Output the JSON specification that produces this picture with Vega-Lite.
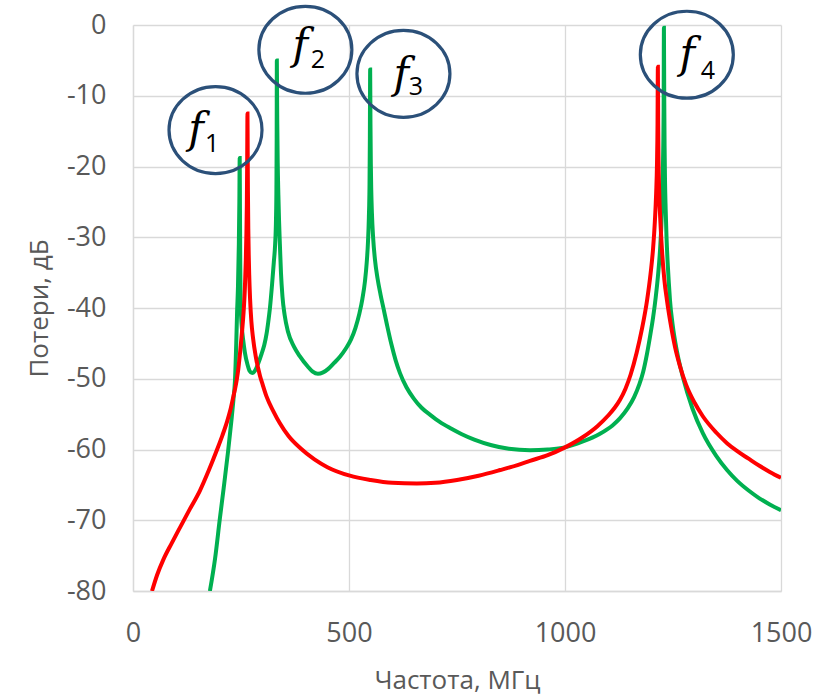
{
  "$schema": "https://vega.github.io/schema/vega-lite/v6.json",
  "width": 648,
  "height": 566,
  "autosize": {"type": "none"},
  "padding": {"left": 133, "top": 25, "right": 47, "bottom": 104},
  "background": "white",
  "config": {
    "view": {"stroke": null},
    "axis": {
      "grid": true,
      "gridColor": "#d9d9d9",
      "gridWidth": 1.3,
      "domainColor": "#d9d9d9",
      "domainWidth": 1.3,
      "ticks": false,
      "tickSize": 0,
      "labelFont": "Open Sans",
      "labelFontSize": 27,
      "labelColor": "#595959",
      "titleFont": "Open Sans",
      "titleFontSize": 26,
      "titleFontWeight": "normal",
      "titleColor": "#595959",
      "labelFlush": false,
      "labelOverlap": false,
      "labelExpr": "'' + datum.value"
    }
  },
  "datasets": {
    "green": [
      {"f": 178, "db": -80}, {"f": 190, "db": -75.4}, {"f": 201, "db": -69.8}, {"f": 210, "db": -65.4},
      {"f": 220, "db": -60.3}, {"f": 228, "db": -55.8}, {"f": 233, "db": -52.6}, {"f": 236, "db": -50.3},
      {"f": 239, "db": -45}, {"f": 241, "db": -40.5}, {"f": 243, "db": -37}, {"f": 245, "db": -31},
      {"f": 246.2, "db": -25}, {"f": 247, "db": -18.8}, {"f": 247.6, "db": -26}, {"f": 248.3, "db": -34},
      {"f": 249, "db": -39}, {"f": 250.5, "db": -41.5}, {"f": 252, "db": -42.8}, {"f": 255, "db": -44.5},
      {"f": 259, "db": -46.3}, {"f": 265, "db": -48}, {"f": 270, "db": -48.9}, {"f": 276, "db": -49.2},
      {"f": 282, "db": -48.9}, {"f": 290, "db": -47.8}, {"f": 298, "db": -46.4}, {"f": 304, "db": -45.2},
      {"f": 309, "db": -43.7}, {"f": 313, "db": -42}, {"f": 317, "db": -40}, {"f": 322, "db": -36.6},
      {"f": 326, "db": -33.5}, {"f": 329, "db": -31}, {"f": 331, "db": -27.5}, {"f": 332, "db": -23},
      {"f": 332.6, "db": -16}, {"f": 333, "db": -5}, {"f": 333.5, "db": -10}, {"f": 334, "db": -14},
      {"f": 335, "db": -19.5}, {"f": 336.5, "db": -24}, {"f": 338, "db": -27.5}, {"f": 340, "db": -31},
      {"f": 342.5, "db": -35}, {"f": 346, "db": -38.4}, {"f": 351, "db": -41}, {"f": 359, "db": -43.4},
      {"f": 372, "db": -45.4}, {"f": 386, "db": -46.8}, {"f": 405, "db": -48.3}, {"f": 416, "db": -49.0},
      {"f": 428, "db": -49.3}, {"f": 440, "db": -49.1}, {"f": 452, "db": -48.6}, {"f": 465, "db": -47.8},
      {"f": 479, "db": -46.9}, {"f": 492, "db": -45.8}, {"f": 505, "db": -44.4}, {"f": 515, "db": -42.8},
      {"f": 524, "db": -40.8}, {"f": 531, "db": -38.7}, {"f": 537, "db": -36.2}, {"f": 541, "db": -33.6},
      {"f": 544, "db": -30.6}, {"f": 546, "db": -27.2}, {"f": 547.5, "db": -22.5}, {"f": 548.3, "db": -16},
      {"f": 549, "db": -6.3}, {"f": 549.7, "db": -14}, {"f": 550.5, "db": -19.5}, {"f": 551.5, "db": -23.3},
      {"f": 553, "db": -26.5}, {"f": 556, "db": -30.2}, {"f": 560, "db": -33.1}, {"f": 566, "db": -35.8},
      {"f": 573, "db": -38.1}, {"f": 580, "db": -40.1}, {"f": 588, "db": -42.4}, {"f": 598, "db": -45.1},
      {"f": 608, "db": -47.4}, {"f": 618, "db": -49.2}, {"f": 633, "db": -51.2}, {"f": 650, "db": -52.8},
      {"f": 668, "db": -54.1}, {"f": 688, "db": -55.1}, {"f": 710, "db": -56.1}, {"f": 735, "db": -57.0},
      {"f": 760, "db": -57.8}, {"f": 790, "db": -58.6}, {"f": 830, "db": -59.4}, {"f": 870, "db": -59.9},
      {"f": 919, "db": -60.1}, {"f": 960, "db": -60.0}, {"f": 1000, "db": -59.7}, {"f": 1040, "db": -58.9},
      {"f": 1080, "db": -57.8}, {"f": 1110, "db": -56.6}, {"f": 1127, "db": -55.6}, {"f": 1145, "db": -54.2},
      {"f": 1160, "db": -52.6}, {"f": 1172, "db": -50.8}, {"f": 1181, "db": -49.0}, {"f": 1190, "db": -46.4},
      {"f": 1198, "db": -43.6}, {"f": 1204, "db": -41.3}, {"f": 1210, "db": -38.5}, {"f": 1215, "db": -35.6},
      {"f": 1220, "db": -31.8}, {"f": 1223, "db": -28.3}, {"f": 1225, "db": -24.8}, {"f": 1226.5, "db": -21},
      {"f": 1227.5, "db": -17}, {"f": 1228.3, "db": -12}, {"f": 1229, "db": -0.4}, {"f": 1229.7, "db": -10},
      {"f": 1230.5, "db": -17}, {"f": 1231.5, "db": -22}, {"f": 1233, "db": -26}, {"f": 1235, "db": -30},
      {"f": 1238, "db": -34}, {"f": 1240.5, "db": -36.6}, {"f": 1243, "db": -38.9}, {"f": 1249, "db": -42.3},
      {"f": 1259, "db": -46.1}, {"f": 1273, "db": -49.8}, {"f": 1295, "db": -54.2}, {"f": 1319, "db": -57.7},
      {"f": 1350, "db": -60.9}, {"f": 1375, "db": -62.9}, {"f": 1398, "db": -64.4}, {"f": 1425, "db": -65.8},
      {"f": 1450, "db": -66.9}, {"f": 1475, "db": -67.8}, {"f": 1500, "db": -68.6}
    ],
    "red": [
      {"f": 44, "db": -80}, {"f": 56, "db": -77.7}, {"f": 70, "db": -75.6}, {"f": 90, "db": -73.2},
      {"f": 109, "db": -71}, {"f": 130, "db": -68.6}, {"f": 155, "db": -65.8}, {"f": 175, "db": -63},
      {"f": 194, "db": -60.1}, {"f": 207, "db": -58}, {"f": 217, "db": -56.2}, {"f": 225, "db": -54.5},
      {"f": 232, "db": -52.6}, {"f": 236, "db": -51.5}, {"f": 240, "db": -50.2}, {"f": 244, "db": -48.5},
      {"f": 248, "db": -46.2}, {"f": 252, "db": -43.6}, {"f": 256, "db": -40.6}, {"f": 259, "db": -37.2},
      {"f": 261, "db": -33.5}, {"f": 262.5, "db": -29.5}, {"f": 263.5, "db": -25.5}, {"f": 264.3, "db": -19.5},
      {"f": 265, "db": -12.5}, {"f": 265.5, "db": -18}, {"f": 266, "db": -23.3}, {"f": 267, "db": -29.3},
      {"f": 268, "db": -32.8}, {"f": 269, "db": -35.3}, {"f": 271, "db": -38.7}, {"f": 274, "db": -41.9},
      {"f": 278, "db": -44.3}, {"f": 284, "db": -46.8}, {"f": 294, "db": -49.6}, {"f": 300, "db": -50.8},
      {"f": 309, "db": -52.5}, {"f": 325, "db": -54.6}, {"f": 340, "db": -56.3}, {"f": 360, "db": -58.1},
      {"f": 387, "db": -59.8}, {"f": 420, "db": -61.4}, {"f": 450, "db": -62.5}, {"f": 502, "db": -63.7},
      {"f": 550, "db": -64.3}, {"f": 600, "db": -64.7}, {"f": 657, "db": -64.8}, {"f": 700, "db": -64.7},
      {"f": 750, "db": -64.3}, {"f": 800, "db": -63.7}, {"f": 850, "db": -62.9}, {"f": 890, "db": -62.2},
      {"f": 919, "db": -61.6}, {"f": 960, "db": -60.8}, {"f": 1000, "db": -59.7}, {"f": 1040, "db": -58.3},
      {"f": 1075, "db": -56.7}, {"f": 1100, "db": -55.2}, {"f": 1115, "db": -54.1}, {"f": 1127, "db": -53},
      {"f": 1140, "db": -51.4}, {"f": 1152, "db": -49.4}, {"f": 1166, "db": -46.3}, {"f": 1178, "db": -43},
      {"f": 1190, "db": -38.9}, {"f": 1198, "db": -35.2}, {"f": 1204, "db": -31.5}, {"f": 1208, "db": -27.8},
      {"f": 1211, "db": -23.8}, {"f": 1213, "db": -19.5}, {"f": 1214.2, "db": -14}, {"f": 1215, "db": -5.9},
      {"f": 1215.7, "db": -14}, {"f": 1216.5, "db": -19}, {"f": 1218, "db": -23.5}, {"f": 1221, "db": -28},
      {"f": 1225, "db": -32.3}, {"f": 1230, "db": -36}, {"f": 1236, "db": -38.9}, {"f": 1245, "db": -42.4},
      {"f": 1255, "db": -45.6}, {"f": 1266, "db": -48.2}, {"f": 1280, "db": -50.8}, {"f": 1300, "db": -53.4},
      {"f": 1319, "db": -55.3}, {"f": 1350, "db": -57.6}, {"f": 1375, "db": -59.1}, {"f": 1398, "db": -60.2},
      {"f": 1425, "db": -61.3}, {"f": 1450, "db": -62.3}, {"f": 1475, "db": -63.2}, {"f": 1500, "db": -64}
    ],
    "circles": [
      {"f": 191, "db": -14.85},
      {"f": 399, "db": -3.5},
      {"f": 626, "db": -6.9},
      {"f": 1282, "db": -4.2}
    ],
    "letters": [
      {"f": 146, "db": -14.9, "t": "f"},
      {"f": 387, "db": -2.9, "t": "f"},
      {"f": 621, "db": -7.0, "t": "f"},
      {"f": 1283, "db": -4.2, "t": "f"}
    ],
    "subs": [
      {"f": 183, "db": -16.8, "t": "1"},
      {"f": 428, "db": -5.0, "t": "2"},
      {"f": 655, "db": -8.8, "t": "3"},
      {"f": 1331, "db": -6.5, "t": "4"}
    ]
  },
  "encoding": {
    "x": {
      "field": "f", "type": "quantitative",
      "scale": {"domain": [0, 1500], "nice": false, "zero": false},
      "axis": {"values": [0, 500, 1000, 1500], "title": "Частота, МГц", "labelPadding": 29, "titleY": 97, "titleBaseline": "alphabetic"}
    },
    "y": {
      "field": "db", "type": "quantitative",
      "scale": {"domain": [-80, 0], "nice": false, "zero": false},
      "axis": {"values": [-80, -70, -60, -50, -40, -30, -20, -10, 0], "title": "Потери, дБ", "labelPadding": 27, "titleX": -86, "titleY": 283, "titleAngle": -90, "titleAlign": "center", "titleBaseline": "alphabetic"}
    }
  },
  "layer": [
    {"data": {"name": "green"}, "mark": {"type": "line", "color": "#00B050", "strokeWidth": 4, "interpolate": "monotone", "clip": true}},
    {"data": {"name": "red"}, "mark": {"type": "line", "color": "#FF0000", "strokeWidth": 4, "interpolate": "monotone", "clip": true}},
    {"data": {"name": "circles"}, "mark": {"type": "point", "shape": "M-1,0A1,0.935,0,1,1,1,0A1,0.935,0,1,1,-1,0Z", "size": 8649, "filled": false, "color": "#2B5079", "strokeWidth": 3.2, "opacity": 1}},
    {"data": {"name": "letters"}, "mark": {"type": "text", "font": "DejaVu Serif", "fontStyle": "italic", "fontSize": 42, "color": "black", "align": "center", "baseline": "middle"}, "encoding": {"text": {"field": "t"}}},
    {"data": {"name": "subs"}, "mark": {"type": "text", "font": "Open Sans", "fontSize": 25, "color": "black", "align": "center", "baseline": "middle"}, "encoding": {"text": {"field": "t"}}}
  ]
}
